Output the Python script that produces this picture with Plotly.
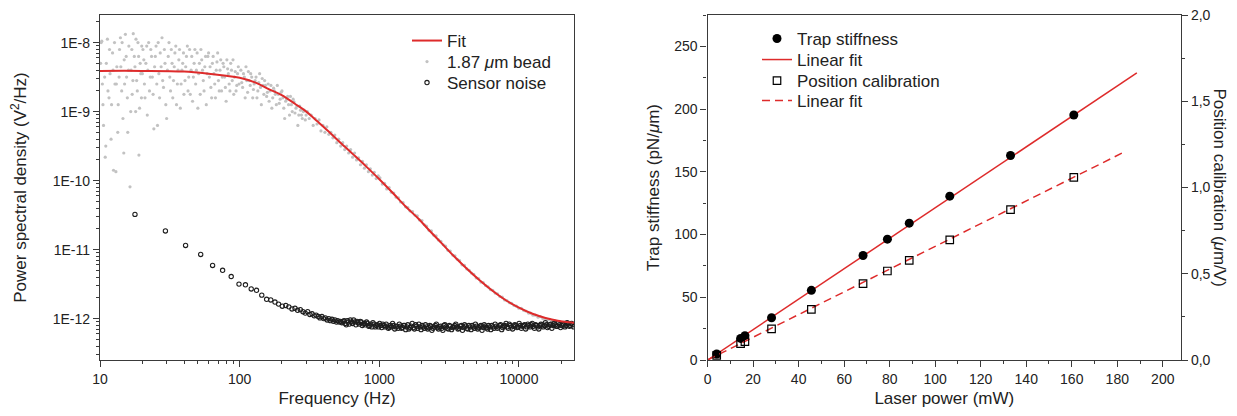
import plotly.graph_objects as go

# ---------------- Left panel: power spectral density ----------------
# Fit curve (frequency Hz, log10 PSD)
fit_freq = [10, 20, 40, 60, 80, 100, 130, 160, 200, 250, 300, 360, 430, 520, 650, 800,
            1000, 1250, 1550, 1900, 2300, 2800, 3400, 4200, 5200, 6500, 8000, 10000,
            12500, 15500, 19000, 24800]
fit_log_psd = [-8.41, -8.41, -8.42, -8.45, -8.48, -8.51, -8.58, -8.67, -8.76, -8.89, -9.00,
               -9.14, -9.28, -9.44, -9.62, -9.79, -9.98, -10.18, -10.38, -10.55, -10.73,
               -10.91, -11.09, -11.27, -11.44, -11.60, -11.73, -11.84, -11.93, -11.99,
               -12.03, -12.06]

# 1.87 um bead spectrum (frequency Hz, log10 PSD), estimated from the scatter
bead_points = [
    (10.2, -8.0), (10.4, -8.6), (10.6, -9.2), (10.9, -9.66), (11.1, -8.3), (11.3, -7.95),
    (11.6, -8.8), (11.8, -8.45), (12.0, -9.4), (12.3, -8.15), (12.5, -9.85), (12.8, -8.6),
    (13.0, -9.87), (13.2, -8.35), (13.5, -8.9), (13.8, -8.1), (14.0, -7.93), (14.3, -8.7),
    (14.6, -9.1), (14.9, -8.25), (15.2, -7.88), (15.5, -8.5), (15.8, -9.3), (16.1, -8.05),
    (16.4, -10.09), (16.7, -8.4), (17.0, -8.75), (17.3, -7.87), (17.6, -8.2), (18.0, -9.0),
    (18.3, -8.55), (18.7, -8.0), (19.0, -9.63), (19.4, -8.3), (19.8, -8.8),
    (10.1, -8.3), (10.3, -7.98), (10.5, -8.9), (10.8, -8.5), (11.0, -9.5), (11.4, -8.7),
    (11.7, -8.1), (12.1, -8.9), (12.4, -8.4), (12.7, -8.0), (13.1, -8.6), (13.4, -9.3),
    (13.7, -8.5), (14.1, -8.35), (14.4, -8.0), (14.8, -9.6), (15.0, -8.6), (15.4, -8.2),
    (15.7, -8.8), (16.0, -8.4), (16.6, -9.0), (16.9, -8.1), (17.2, -8.55), (17.8, -8.35),
    (18.1, -7.95), (18.5, -8.7), (18.9, -8.2), (19.2, -8.95), (19.6, -8.45), (19.9, -8.05),
    (20.3, -8.1), (20.8, -8.6), (21.3, -8.3), (21.8, -9.05), (22.3, -8.0), (22.9, -8.5),
    (23.4, -8.2), (24.0, -8.75), (24.6, -8.35), (25.2, -8.05), (25.8, -9.2), (26.4, -8.45),
    (27.0, -8.15), (27.8, -7.93), (28.5, -8.65), (29.2, -8.3), (30.0, -9.1), (30.8, -8.2),
    (31.6, -8.5), (32.4, -8.1), (33.2, -8.8), (34.0, -8.35), (34.9, -8.05), (35.8, -8.6),
    (36.7, -8.25), (37.6, -8.95), (38.6, -8.4), (39.6, -8.15),
    (20.1, -8.45), (20.6, -8.25), (21.0, -8.8), (21.6, -8.05), (22.0, -8.4), (22.6, -8.7),
    (23.1, -8.1), (23.7, -8.5), (24.3, -9.25), (24.9, -8.2), (25.5, -8.6), (26.1, -8.0),
    (26.7, -8.8), (27.4, -8.35), (28.1, -8.55), (28.9, -8.1), (29.6, -8.9), (30.4, -8.4),
    (31.2, -8.0), (32.0, -8.7), (32.8, -8.3), (33.6, -8.55), (34.4, -8.15), (35.3, -8.9),
    (36.2, -8.4), (37.1, -8.1), (38.1, -8.6), (39.1, -8.3), (39.9, -8.75),
    (40.6, -8.55), (41.6, -8.2), (42.7, -8.7), (43.8, -8.1), (44.9, -8.4), (46.0, -8.85),
    (47.2, -8.3), (48.4, -8.6), (49.6, -8.15), (50.9, -8.45), (52.2, -8.75), (53.5, -8.25),
    (54.9, -8.55), (56.3, -8.35), (57.7, -8.9), (59.2, -8.2), (60.7, -8.5), (62.2, -8.65),
    (63.8, -8.3), (65.4, -8.45), (67.1, -8.8), (68.8, -8.28), (70.5, -8.55), (72.3, -8.4),
    (74.2, -8.7), (76.1, -8.3), (78.0, -8.5), (80.0, -8.85), (82.0, -8.38), (84.1, -8.6),
    (86.3, -8.3), (88.5, -8.55), (90.7, -8.75), (93.0, -8.42), (95.4, -8.62), (97.8, -8.35),
    (41.1, -8.35), (42.2, -8.05), (43.2, -8.5), (44.3, -8.75), (45.4, -8.2), (46.6, -8.5),
    (47.8, -8.1), (49.0, -8.4), (50.2, -8.95), (51.5, -8.3), (52.8, -8.1), (54.2, -8.4),
    (55.6, -8.7), (57.0, -8.2), (58.5, -8.45), (59.9, -8.15), (61.4, -8.35), (63.0, -8.8),
    (64.6, -8.2), (66.3, -8.6), (68.0, -8.4), (69.6, -8.15), (71.4, -8.7), (73.2, -8.25),
    (75.1, -8.5), (77.0, -8.35), (79.0, -8.65), (81.0, -8.25), (83.0, -8.45), (85.2, -8.7),
    (87.4, -8.4), (89.6, -8.25), (91.8, -8.5), (94.2, -8.7), (96.6, -8.45), (99.0, -8.6),
    (102, -8.40), (105, -8.65), (108, -8.5), (111, -8.35), (114, -8.72), (117, -8.55),
    (120, -8.45), (124, -8.8), (127, -8.6), (131, -8.5), (135, -8.7), (139, -8.45),
    (143, -8.9), (147, -8.62), (151, -8.55), (156, -8.78), (160, -8.6), (165, -8.7),
    (170, -8.95), (175, -8.66), (180, -8.75), (186, -8.62), (192, -8.88), (198, -8.72),
    (204, -8.8), (210, -9.1), (217, -8.82), (224, -8.9), (231, -8.78), (238, -9.0),
    (245, -8.86), (253, -8.95), (261, -9.2), (269, -8.92), (277, -9.05), (286, -9.0),
    (295, -9.12),
    (103.5, -8.58), (106.5, -8.45), (109.5, -8.8), (112.5, -8.55), (115.5, -8.42),
    (119, -8.62), (122, -8.5), (125.5, -8.68), (129, -8.55), (133, -8.8), (137, -8.58),
    (141, -8.65), (145, -8.52), (149, -8.75), (153, -8.62), (158, -8.72), (162.5, -8.85),
    (167.5, -8.62), (172.5, -8.8), (177.5, -8.7), (183, -8.9), (189, -8.75), (195, -8.82),
    (201, -8.7), (207, -8.95), (213.5, -8.85), (220.5, -8.78), (227.5, -9.05),
    (234.5, -8.9), (241.5, -8.82), (249, -9.02), (257, -8.92), (265, -9.05), (273, -8.98),
    (281, -9.1), (290, -8.98), (299, -9.05),
    (305, -9.0), (315, -9.1), (325, -9.05), (336, -9.2), (347, -9.1), (358, -9.18),
    (370, -9.12), (382, -9.28), (395, -9.2), (408, -9.3), (421, -9.22), (435, -9.33),
    (450, -9.3), (465, -9.38), (480, -9.34), (496, -9.45), (512, -9.4), (529, -9.5),
    (547, -9.45), (565, -9.55), (584, -9.5), (603, -9.6), (623, -9.55), (644, -9.66),
    (665, -9.6), (687, -9.7), (710, -9.67), (733, -9.77), (757, -9.72), (782, -9.82),
    (808, -9.77), (835, -9.87), (862, -9.83), (891, -9.92), (920, -9.88), (950, -9.97),
    (982, -9.93),
    (1010, -9.96), (1050, -10.05), (1090, -10.04), (1130, -10.12), (1175, -10.10),
    (1220, -10.17), (1270, -10.18), (1320, -10.24), (1370, -10.25), (1420, -10.31),
    (1480, -10.32), (1540, -10.38), (1600, -10.39), (1660, -10.44), (1730, -10.45),
    (1800, -10.5), (1870, -10.51), (1940, -10.57), (2020, -10.58), (2100, -10.64),
    (2180, -10.66), (2270, -10.72), (2360, -10.73), (2450, -10.79), (2550, -10.8),
    (2650, -10.86), (2760, -10.88), (2870, -10.93), (2980, -10.95), (3100, -11.01),
    (3220, -11.02), (3350, -11.08), (3480, -11.09), (3620, -11.14), (3760, -11.16),
    (3910, -11.22), (4070, -11.23), (4230, -11.28), (4400, -11.3), (4570, -11.34),
    (4750, -11.36), (4940, -11.41), (5140, -11.42), (5340, -11.47), (5550, -11.48),
    (5770, -11.52), (6000, -11.54), (6240, -11.58), (6490, -11.59), (6750, -11.63),
    (7020, -11.64), (7300, -11.68), (7590, -11.69), (7890, -11.73), (8200, -11.74),
    (8530, -11.77), (8870, -11.78), (9220, -11.81), (9590, -11.82), (9970, -11.85),
    (10400, -11.85), (10800, -11.88), (11200, -11.89), (11700, -11.92), (12100, -11.92),
    (12600, -11.95), (13100, -11.95), (13700, -11.98), (14200, -11.97), (14800, -12.0),
    (15400, -12.0), (16000, -12.02), (16600, -12.01), (17300, -12.04), (18000, -12.03),
    (18700, -12.05), (19500, -12.04), (20300, -12.06), (21100, -12.05), (21900, -12.07),
    (22800, -12.06), (23700, -12.08), (24600, -12.06),
]

# Sensor noise spectrum (frequency Hz, log10 PSD)
noise_points = [
    (17.8, -10.49), (29.4, -10.73), (41, -10.94), (52.6, -11.07), (64, -11.23),
    (75.5, -11.30), (87, -11.39), (98.9, -11.50), (110, -11.51), (121, -11.57),
    (132, -11.59), (144, -11.66), (156, -11.72), (167, -11.73), (179, -11.76),
    (190, -11.79), (202, -11.82), (214, -11.81), (225, -11.83), (237, -11.86),
    (249, -11.85), (260, -11.88), (272, -11.87), (284, -11.9), (295, -11.92),
    (307, -11.9), (318, -11.94), (330, -11.93), (342, -11.96), (353, -11.95),
    (365, -11.97), (376, -11.99), (388, -11.97), (400, -12.0), (411, -11.99),
    (423, -12.02), (435, -12.0), (446, -12.03), (458, -12.01), (469, -12.04),
    (481, -12.02), (493, -12.05), (504, -12.03), (516, -12.05), (528, -12.04),
    (550, -12.04), (570, -12.07), (590, -12.03), (610, -12.08), (630, -12.05),
    (655, -12.02), (680, -12.09), (705, -12.06), (730, -12.04), (755, -12.1),
    (780, -12.07), (810, -12.05), (840, -12.11), (870, -12.08), (900, -12.06),
    (935, -12.12), (970, -12.09), (1005, -12.07), (1040, -12.13), (1080, -12.1),
    (1120, -12.08), (1160, -12.14), (1200, -12.1), (1245, -12.07), (1290, -12.15),
    (1340, -12.11), (1390, -12.08), (1440, -12.14), (1490, -12.1), (1545, -12.16),
    (1600, -12.09), (1660, -12.13), (1720, -12.07), (1785, -12.15), (1850, -12.11),
    (1920, -12.08), (1990, -12.16), (2060, -12.12), (2140, -12.09), (2220, -12.15),
    (2300, -12.1), (2380, -12.17), (2470, -12.12), (2560, -12.08), (2650, -12.15),
    (2750, -12.11), (2850, -12.17), (2950, -12.09), (3060, -12.14), (3170, -12.1),
    (3290, -12.16), (3410, -12.12), (3530, -12.08), (3660, -12.15), (3800, -12.11),
    (3940, -12.17), (4080, -12.09), (4230, -12.14), (4380, -12.1), (4540, -12.16),
    (4710, -12.12), (4880, -12.08), (5060, -12.15), (5250, -12.11), (5440, -12.17),
    (5640, -12.09), (5850, -12.13), (6060, -12.1), (6280, -12.16), (6510, -12.12),
    (6750, -12.08), (7000, -12.14), (7260, -12.1), (7520, -12.16), (7800, -12.11),
    (8080, -12.07), (8380, -12.14), (8690, -12.1), (9000, -12.15), (9330, -12.09),
    (9680, -12.13), (10030, -12.07), (10400, -12.14), (10780, -12.1), (11170, -12.15),
    (11580, -12.08), (12000, -12.12), (12440, -12.07), (12900, -12.14), (13370, -12.1),
    (13860, -12.15), (14370, -12.08), (14900, -12.12), (15440, -12.06), (16000, -12.13),
    (16590, -12.09), (17200, -12.14), (17830, -12.07), (18480, -12.11), (19160, -12.06),
    (19860, -12.13), (20590, -12.08), (21340, -12.12), (22120, -12.06), (22930, -12.11),
    (23770, -12.07), (24640, -12.12),
    (540, -12.06), (560, -12.03), (580, -12.09), (600, -12.05), (620, -12.02), (642, -12.07),
    (667, -12.05), (692, -12.04), (717, -12.08), (742, -12.05), (767, -12.08), (795, -12.09),
    (825, -12.07), (855, -12.1), (885, -12.12), (918, -12.08), (952, -12.1), (988, -12.12),
    (1022, -12.1), (1060, -12.08), (1100, -12.12), (1140, -12.11), (1180, -12.13),
    (1222, -12.12), (1268, -12.1), (1315, -12.12), (1365, -12.14), (1415, -12.11),
    (1465, -12.13), (1518, -12.1), (1572, -12.12), (1630, -12.15), (1690, -12.11),
    (1752, -12.13), (1818, -12.09), (1885, -12.14), (1955, -12.12), (2025, -12.1),
    (2100, -12.14), (2180, -12.12), (2260, -12.13), (2340, -12.11), (2425, -12.14),
    (2515, -12.1), (2605, -12.13), (2700, -12.12), (2800, -12.14), (2900, -12.1),
    (3005, -12.12), (3115, -12.15), (3230, -12.11), (3350, -12.13), (3470, -12.1),
    (3595, -12.12), (3730, -12.14), (3870, -12.1), (4010, -12.13), (4155, -12.11),
    (4305, -12.15), (4460, -12.12), (4625, -12.1), (4795, -12.14), (4970, -12.11),
    (5155, -12.13), (5345, -12.1), (5540, -12.13), (5745, -12.11), (5955, -12.15),
    (6170, -12.12), (6395, -12.1), (6630, -12.14), (6875, -12.11), (7130, -12.12),
    (7390, -12.09), (7660, -12.13), (7940, -12.1), (8230, -12.12), (8535, -12.08),
    (8845, -12.12), (9165, -12.11), (9505, -12.1), (9855, -12.12), (10215, -12.1),
    (10590, -12.11), (10975, -12.09), (11375, -12.12), (11790, -12.1), (12220, -12.09),
    (12670, -12.11), (13135, -12.09), (13615, -12.12), (14115, -12.1), (14635, -12.09),
    (15170, -12.1), (15720, -12.09), (16295, -12.11), (16895, -12.08), (17515, -12.1),
    (18155, -12.09), (18820, -12.11), (19510, -12.09), (20225, -12.1), (20965, -12.09),
    (21730, -12.1), (22525, -12.08), (23350, -12.1), (24205, -12.09),
]

psd_tick_vals = [1e-12, 1e-11, 1e-10, 1e-9, 1e-8]
psd_tick_text = ["1E-12", "1E-11", "1E-10", "1E-9", "1E-8"]
freq_tick_vals = [10, 100, 1000, 10000]
freq_tick_text = ["10", "100", "1000", "10000"]

# ---------------- Right panel: calibration vs laser power ----------------
laser_power = [4.0, 14.5, 16.4, 28.1, 45.6, 68.3, 79.0, 88.6, 106.4, 133.1, 160.9]
trap_stiffness = [4.8, 17.2, 19.4, 33.7, 55.5, 83.3, 96.3, 109.1, 130.6, 163.0, 195.3]
position_cal = [0.027, 0.095, 0.106, 0.180, 0.294, 0.443, 0.516, 0.578, 0.696, 0.872, 1.059]
stiff_fit_power = [0, 188.6]
stiff_fit_value = [0, 228.8]
pos_fit_power = [0, 183.4]
pos_fit_value = [0, 1.208]
cal_tick_vals = [0, 0.5, 1.0, 1.5, 2.0]
cal_tick_text = ["0,0", "0,5", "1,0", "1,5", "2,0"]

FONT = "Liberation Sans, Arial, sans-serif"
TXT = "#222222"
AX = "#3a3a3a"
RED = "#de2b2b"

# the page body adds an 8px margin; keep the figure inside the window (no scrollbars)
OFF = 8
W, H = 1237 - 2 * OFF, 416 - 2 * OFF
ML, MR = 100 - OFF, W - (1181 - OFF)
MT, MB = 15 - OFF, H - (360 - OFF)
PW, PH = W - ML - MR, H - MT - MB


def px(x):
    return (x - OFF - ML) / PW


def py(y):
    return (H - MB - (y - OFF)) / PH


fig = go.Figure()

bead_f = [p[0] for p in bead_points]
bead_v = [10 ** p[1] for p in bead_points]
noise_f = [p[0] for p in noise_points]
noise_v = [10 ** p[1] for p in noise_points]
fit_v = [10 ** v for v in fit_log_psd]

legfont = dict(family=FONT, size=17, color=TXT)
fig.add_trace(go.Scatter(x=bead_f, y=bead_v, mode="markers", name="1.87 <i>μ</i>m bead",
                         marker=dict(size=3.2, color="#c2c2c2"), legend="legend2",
                         xaxis="x", yaxis="y"))
fig.add_trace(go.Scatter(x=noise_f, y=noise_v, mode="markers", name="Sensor noise",
                         marker=dict(size=4.3, color="rgba(0,0,0,0)",
                                     line=dict(color="#1e1e1e", width=1.1)),
                         legend="legend3", xaxis="x", yaxis="y"))
fig.add_trace(go.Scatter(x=fit_freq, y=fit_v, mode="lines", name="Fit",
                         line=dict(color=RED, width=2, shape="spline"),
                         legend="legend", xaxis="x", yaxis="y"))

# right panel
fig.add_trace(go.Scatter(x=stiff_fit_power, y=stiff_fit_value, mode="lines", name="Linear fit",
                         line=dict(color=RED, width=1.5), legend="legend5",
                         xaxis="x2", yaxis="y2"))
fig.add_trace(go.Scatter(x=pos_fit_power, y=pos_fit_value, mode="lines", name="Linear fit",
                         line=dict(color=RED, width=1.5, dash="8px,5px"), legend="legend7",
                         xaxis="x2", yaxis="y3"))
fig.add_trace(go.Scatter(x=laser_power, y=trap_stiffness, mode="markers", name="Trap stiffness",
                         marker=dict(size=9, color="black"), legend="legend4",
                         xaxis="x2", yaxis="y2"))
fig.add_trace(go.Scatter(x=laser_power, y=position_cal, mode="markers",
                         name="Position calibration",
                         marker=dict(size=7.5, symbol="square-open", color="black",
                                     line=dict(width=1.2)),
                         legend="legend6", xaxis="x2", yaxis="y3"))

tickfont = dict(family=FONT, size=14, color=TXT)
titlefont = dict(family=FONT, size=17, color=TXT)
common = dict(showgrid=False, zeroline=False, showline=True, linecolor=AX, linewidth=1.3,
              ticks="outside", ticklen=6, tickwidth=1.2, tickcolor=AX, tickfont=tickfont,
              automargin=False, ticklabeloverflow="allow")

xd1 = [px(100), px(574)]
xd2 = [px(707.6), px(1181)]
yd = [0, 1]


def leg(x_text, y_center):
    return dict(x=px(x_text - 40), y=py(y_center), xanchor="left", yanchor="middle",
                bgcolor="rgba(0,0,0,0)", font=legfont, itemsizing="trace",
                borderwidth=0)


fig.update_layout(
    width=W, height=H, margin=dict(l=ML, r=MR, t=MT, b=MB),
    paper_bgcolor="white", plot_bgcolor="white",
    font=dict(family=FONT, color=TXT),
    xaxis=dict(type="log", domain=xd1, anchor="y", range=[1, 4.394], mirror=True,
               tickvals=freq_tick_vals, ticktext=freq_tick_text,
               minor=dict(ticks="outside", ticklen=3, dtick="D1", tickcolor=AX),
               title=dict(text="Frequency (Hz)", font=titlefont, standoff=9), **common),
    yaxis=dict(type="log", domain=yd, anchor="x", range=[-12.6, -7.6], mirror=True,
               tickvals=psd_tick_vals, ticktext=psd_tick_text,
               minor=dict(ticks="outside", ticklen=3, dtick="D1", tickcolor=AX),
               title=dict(text="Power spectral density (V<sup>2</sup>/Hz)", font=titlefont,
                          standoff=25), **common),
    yaxis4=dict(type="log", overlaying="y", side="right", anchor="x", range=[-12.6, -7.6],
                showgrid=False, zeroline=False, showline=False, ticks="inside", ticklen=6,
                tickwidth=1.2, tickcolor=AX, tickvals=psd_tick_vals, showticklabels=False,
                automargin=False,
                minor=dict(ticks="inside", ticklen=3, dtick="D1", tickcolor=AX)),
    xaxis2=dict(domain=xd2, anchor="y2", range=[0, 208], mirror=True, dtick=20, tick0=0,
                minor=dict(ticks="outside", ticklen=3, dtick=10, tickcolor=AX),
                title=dict(text="Laser power (mW)", font=titlefont, standoff=9), **common),
    yaxis2=dict(domain=yd, anchor="x2", range=[0, 275], dtick=50, tick0=0,
                minor=dict(ticks="outside", ticklen=3, dtick=25, tickcolor=AX),
                title=dict(text="Trap stiffness (pN/<i>μ</i>m)", font=titlefont, standoff=10),
                **common),
    yaxis3=dict(overlaying="y2", side="right", anchor="x2", range=[0, 2.0],
                tickvals=cal_tick_vals, ticktext=cal_tick_text,
                minor=dict(ticks="outside", ticklen=3, dtick=0.25, tickcolor=AX), **common),
    legend=leg(447, 41),
    legend2=leg(447, 62),
    legend3=leg(447, 83),
    legend4=leg(797, 39),
    legend5=leg(797, 60),
    legend6=leg(797, 81),
    legend7=leg(797, 101),
    showlegend=True,
    annotations=[dict(text="Position calibration (<i>μ</i>m/V)", textangle=90,
                      x=px(1219), y=0.5, xref="paper", yref="paper", xanchor="center",
                      yanchor="middle", showarrow=False, font=titlefont)],
)

fig.write_html("out.html")
